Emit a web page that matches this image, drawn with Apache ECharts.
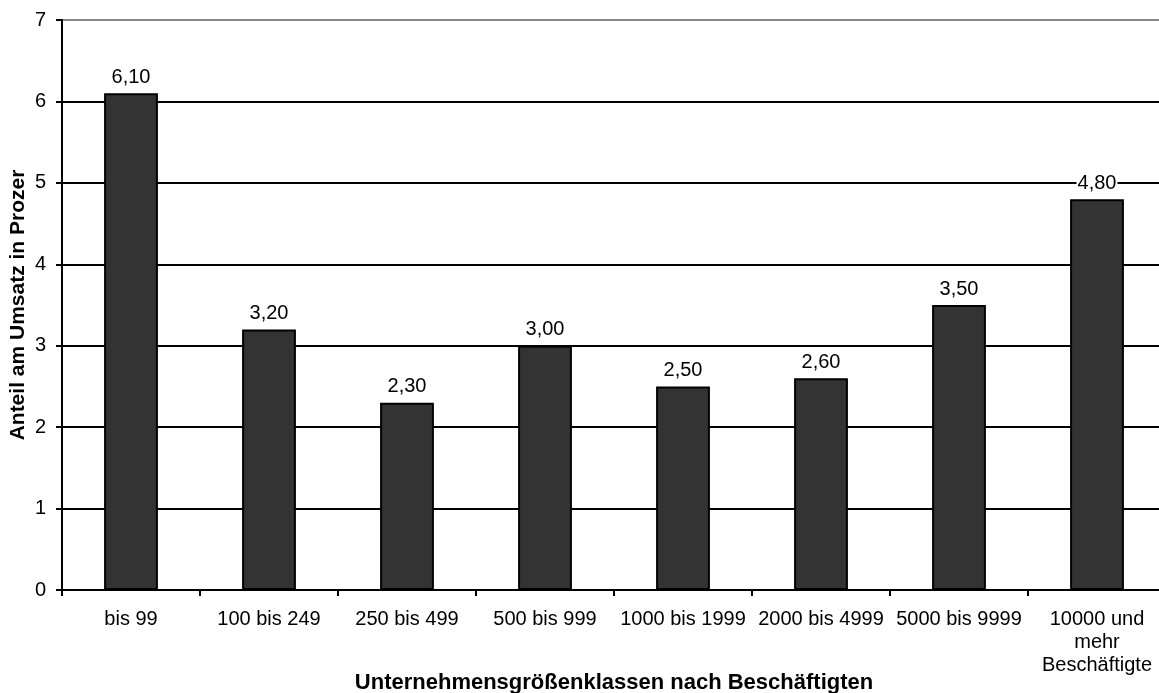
<!DOCTYPE html>
<html>
<head>
<meta charset="utf-8">
<script src="https://cdn.jsdelivr.net/npm/echarts@6/dist/echarts.min.js"></script>
<style>
  html, body { margin: 0; padding: 0; background: #fff; }
  #chart { width: 1159px; height: 693px; }
</style>
</head>
<body>
<div id="chart"></div>
<script>
  const categories = ['bis 99', '100 bis 249', '250 bis 499', '500 bis 999', '1000 bis 1999', '2000 bis 4999', '5000 bis 9999', '10000 und\nmehr\nBeschäftigte'];
  const values = [6.10, 3.20, 2.30, 3.00, 2.50, 2.60, 3.50, 4.80];
  const yTicks = [0, 1, 2, 3, 4, 5, 6, 7];

  const font = '"Liberation Sans", Arial, sans-serif';
  const myChart = echarts.init(document.getElementById('chart'));
  myChart.setOption({
    animation: false,
    grid: { left: 62, right: -7, top: 20, bottom: 103, containLabel: false, outerBoundsMode: 'none' },
    xAxis: {
      type: 'category',
      data: categories,
      name: 'Unternehmensgrößenklassen nach Beschäftigten',
      nameLocation: 'middle',
      nameGap: 82,
      nameMoveOverlap: false,
      nameTextStyle: { fontFamily: font, fontSize: 22, fontWeight: 'bold', color: '#000' },
      axisLine: { lineStyle: { color: '#000', width: 2 } },
      axisTick: { show: true, alignWithLabel: false, length: 6, lineStyle: { color: '#000', width: 2 } },
      axisLabel: { fontFamily: font, fontSize: 20, color: '#000', margin: 18, lineHeight: 23, interval: 0 }
    },
    yAxis: {
      type: 'value',
      min: yTicks[0],
      max: yTicks[yTicks.length - 1],
      interval: 1,
      name: 'Anteil am Umsatz in Prozer',
      nameLocation: 'middle',
      nameGap: 33,
      nameMoveOverlap: false,
      nameTextStyle: { fontFamily: font, fontSize: 21, fontWeight: 'bold', color: '#000' },
      axisLine: { show: true, lineStyle: { color: '#000', width: 2 } },
      axisTick: { show: true, length: 6, lineStyle: { color: '#000', width: 2 } },
      axisLabel: { fontFamily: font, fontSize: 20, color: '#000', margin: 16 },
      splitLine: { show: true, lineStyle: { color: ['#000', '#000', '#000', '#000', '#000', '#000', '#000', '#888'], width: 2 } }
    },
    series: [{
      type: 'bar',
      data: values,
      barWidth: '39%',
      itemStyle: { color: '#333333', borderColor: '#000', borderWidth: 2 },
      label: {
        show: true,
        position: 'top',
        distance: 6,
        fontFamily: font,
        fontSize: 20,
        color: '#000',
        backgroundColor: '#fff',
        padding: [0, 1],
        formatter: p => p.value.toFixed(2).replace('.', ',')
      }
    }]
  });
</script>
</body>
</html>
